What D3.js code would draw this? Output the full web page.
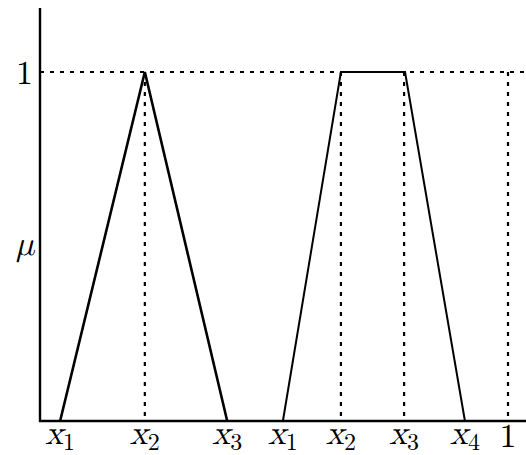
<!DOCTYPE html>
<html><head><meta charset="utf-8">
<script src="https://cdn.jsdelivr.net/npm/d3@7"></script>
<style>body{margin:0;background:#fff}svg{display:block}</style>
</head><body><svg id="c" width="526" height="455"></svg>
<script>
const triX = [0.043, 0.224, 0.400];
const triMu = [0, 1, 0];
const trapX = [0.519, 0.643, 0.780, 0.908];
const trapMu = [0, 1, 1, 0];
const dashedX = [0.224, 0.643, 0.778, 1.0];
const tickLabels = [
  {v:0.043, t:"x", s:"1"}, {v:0.224, t:"x", s:"2"}, {v:0.400, t:"x", s:"3"},
  {v:0.519, t:"x", s:"1"}, {v:0.643, t:"x", s:"2"}, {v:0.778, t:"x", s:"3"},
  {v:0.908, t:"x", s:"4"}, {v:1.0, t:"1", s:""}
];

const svg = d3.select("#c");
const x = d3.scaleLinear().domain([0,1]).range([40,508]);
const y = d3.scaleLinear().domain([0,1]).range([421,72]);

svg.append("line").attr("x1",x(0)).attr("x2",526).attr("y1",y(1)).attr("y2",y(1))
  .attr("stroke","#000").attr("stroke-width",2.2).attr("stroke-dasharray","4,6");
svg.selectAll("line.v").data(dashedX).enter().append("line")
  .attr("x1",d=>x(d)).attr("x2",d=>x(d)).attr("y1",y(1)).attr("y2",y(0))
  .attr("stroke","#000").attr("stroke-width",2.2).attr("stroke-dasharray","4,6");

const line = d3.line().x(d=>x(d[0])).y(d=>y(d[1]));
svg.append("path").datum(d3.zip(triX,triMu)).attr("d",line)
  .attr("fill","none").attr("stroke","#000").attr("stroke-width",2.6);
svg.append("path").datum(d3.zip(trapX,trapMu)).attr("d",line)
  .attr("fill","none").attr("stroke","#000").attr("stroke-width",2);

svg.append("line").attr("x1",x(0)).attr("x2",x(0)).attr("y1",8).attr("y2",y(0)+1)
  .attr("stroke","#000").attr("stroke-width",2.4);
svg.append("line").attr("x1",x(0)-1).attr("x2",526).attr("y1",y(0)).attr("y2",y(0))
  .attr("stroke","#000").attr("stroke-width",2.4);

const font = "'Latin Modern Math','Latin Modern Roman','DejaVu Serif','Liberation Serif',serif";
svg.append("text").attr("x",x(0)-7).attr("y",y(1)+12).attr("text-anchor","end")
  .attr("font-family",font).attr("font-size",34).text("1");
svg.append("text").attr("x",x(0)-6).attr("y",y(0.5)+8).attr("text-anchor","end")
  .attr("font-family",font).attr("font-style","italic").attr("font-size",34).text("μ");

const g = svg.selectAll("text.tick").data(tickLabels).enter().append("text")
  .attr("x",d=>x(d.v)).attr("y",d=>d.s?444:447).attr("text-anchor","middle")
  .attr("font-family",font).attr("font-size",34);
g.append("tspan").attr("font-style",d=>d.s?"italic":"normal").text(d=>d.t);
g.filter(d=>d.s).append("tspan").attr("font-size",24).attr("dy",6).text(d=>d.s);
</script></body></html>
